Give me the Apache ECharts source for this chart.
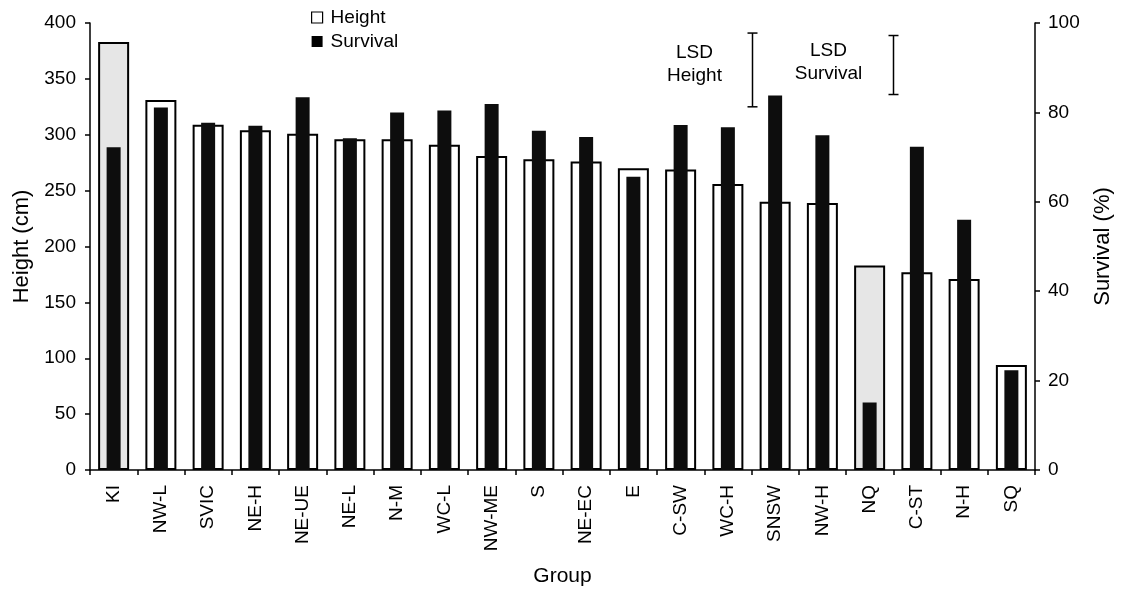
<!DOCTYPE html>
<html>
<head>
<meta charset="utf-8">
<script src="https://cdn.jsdelivr.net/npm/echarts@6/dist/echarts.min.js"></script>
<style>
  html, body { margin: 0; padding: 0; background: #fff; }
  #chart { width: 1126px; height: 589px; }
</style>
</head>
<body>
<div id="chart"></div>
<script>
// Groups along the x axis
const groups = ['KI', 'NW-L', 'SVIC', 'NE-H', 'NE-UE', 'NE-L', 'N-M', 'WC-L', 'NW-ME', 'S',
  'NE-EC', 'E', 'C-SW', 'WC-H', 'SNSW', 'NW-H', 'NQ', 'C-ST', 'N-H', 'SQ'];

// Mean height (cm), left axis
const heightCm = [383, 331, 309, 304, 301, 296, 296, 291, 281, 278,
  276, 270, 269, 256, 240, 239, 183, 177, 171, 94];

// Survival (%), right axis
const survivalPct = [72.2, 81.1, 77.7, 77.0, 83.4, 74.2, 80.0, 80.4, 81.9, 75.9,
  74.5, 65.6, 77.2, 76.7, 83.8, 74.9, 15.1, 72.3, 56.0, 22.3];

// Groups whose height bar carries a shaded fill
const shadedGroups = ['KI', 'NQ'];

// Least significant difference bars: drawn just right of the named group
const lsdHeight = { after: 'WC-H', top: 391, size: 66 };
const lsdSurvival = { after: 'NQ', top: 97.2, size: 13.2 };

// Axis tick settings
const heightTicks = { min: 0, max: 400, interval: 50 };
const survivalTicks = { min: 0, max: 100, interval: 20 };

const FONT = '"Liberation Sans", Arial, sans-serif';

const chart = echarts.init(document.getElementById('chart'), null, { renderer: 'canvas' });

function lsdRenderer(lines, textDx, textDy) {
  return function (params, api) {
    const idx = api.value(0);
    const top = api.coord([idx, api.value(1)]);
    const bot = api.coord([idx, api.value(1) - api.value(2)]);
    const half = api.size([1, 0])[0] / 2;
    const x = Math.round(top[0] + half) + 0.5;
    const cap = 5;
    const style = { stroke: '#000', lineWidth: 1.5, fill: null };
    return {
      type: 'group',
      children: [
        { type: 'line', shape: { x1: x, y1: top[1], x2: x, y2: bot[1] }, style },
        { type: 'line', shape: { x1: x - cap, y1: top[1], x2: x + cap, y2: top[1] }, style },
        { type: 'line', shape: { x1: x - cap, y1: bot[1], x2: x + cap, y2: bot[1] }, style },
        {
          type: 'text',
          x: x + textDx,
          y: (top[1] + bot[1]) / 2 + textDy,
          style: {
            text: lines.join('\n'),
            fill: '#000',
            font: '19px ' + FONT,
            lineHeight: 23,
            align: 'center',
            verticalAlign: 'middle'
          }
        }
      ]
    };
  };
}

const option = {
  animation: false,
  backgroundColor: '#fff',
  textStyle: { fontFamily: FONT, color: '#000' },
  legend: {
    orient: 'vertical',
    left: 311,
    top: 8,
    padding: 0,
    itemWidth: 11,
    itemHeight: 11,
    itemGap: 5,
    textStyle: { fontSize: 19, color: '#000', fontFamily: FONT, padding: [0, 0, 0, 3] },
    data: [
      { name: 'Height', icon: 'rect', itemStyle: { color: '#fff', borderColor: '#000', borderWidth: 1.2 } },
      { name: 'Survival', icon: 'rect', itemStyle: { color: '#000' } }
    ]
  },
  grid: { left: 90, right: 91, top: 23, bottom: 119, outerBoundsMode: 'none', containLabel: false },
  xAxis: [
    {
      type: 'category',
      data: groups,
      name: 'Group',
      nameLocation: 'middle',
      nameGap: 96,
      nameTextStyle: { fontSize: 21, color: '#000', fontFamily: FONT },
      axisLine: { lineStyle: { color: '#000', width: 1.5 } },
      axisTick: { show: true, inside: false, length: 5, alignWithLabel: false, lineStyle: { color: '#000', width: 1.5 } },
      axisLabel: { rotate: 90, margin: 15, fontSize: 19, color: '#000', fontFamily: FONT, interval: 0 }
    },
    {
      type: 'category',
      data: groups,
      show: false
    }
  ],
  yAxis: [
    {
      type: 'value',
      min: heightTicks.min,
      max: heightTicks.max,
      interval: heightTicks.interval,
      name: 'Height (cm)',
      nameLocation: 'middle',
      nameGap: 57,
      nameTextStyle: { fontSize: 22, color: '#000', fontFamily: FONT },
      splitLine: { show: false },
      axisLine: { show: true, lineStyle: { color: '#000', width: 1.5 } },
      axisTick: { show: true, length: 5, lineStyle: { color: '#000', width: 1.5 } },
      axisLabel: { fontSize: 19, color: '#000', fontFamily: FONT, margin: 14 }
    },
    {
      type: 'value',
      position: 'right',
      min: survivalTicks.min,
      max: survivalTicks.max,
      interval: survivalTicks.interval,
      name: 'Survival (%)',
      nameLocation: 'middle',
      nameRotate: 90,
      nameGap: 57,
      nameTextStyle: { fontSize: 22, color: '#000', fontFamily: FONT },
      splitLine: { show: false },
      axisLine: { show: true, lineStyle: { color: '#000', width: 1.5 } },
      axisTick: { show: true, length: 5, lineStyle: { color: '#000', width: 1.5 } },
      axisLabel: { fontSize: 19, color: '#000', fontFamily: FONT, margin: 13 }
    }
  ],
  series: [
    {
      name: 'Height',
      type: 'bar',
      xAxisIndex: 0,
      yAxisIndex: 0,
      barWidth: 31,
      itemStyle: { color: '#fff', borderColor: '#000', borderWidth: 2 },
      data: heightCm.map((v, i) => shadedGroups.includes(groups[i])
        ? { value: v, itemStyle: { color: '#e6e6e6' } }
        : v)
    },
    {
      name: 'Survival',
      type: 'bar',
      xAxisIndex: 1,
      yAxisIndex: 1,
      barWidth: 14,
      itemStyle: { color: '#0d0d0d' },
      data: survivalPct
    },
    {
      type: 'custom',
      xAxisIndex: 0,
      yAxisIndex: 0,
      silent: true,
      renderItem: lsdRenderer(['LSD', 'Height'], -58, -6),
      data: [[groups.indexOf(lsdHeight.after), lsdHeight.top, lsdHeight.size]],
      z: 5
    },
    {
      type: 'custom',
      xAxisIndex: 0,
      yAxisIndex: 1,
      silent: true,
      renderItem: lsdRenderer(['LSD', 'Survival'], -65, -3),
      data: [[groups.indexOf(lsdSurvival.after), lsdSurvival.top, lsdSurvival.size]],
      z: 5
    }
  ]
};

chart.setOption(option);
</script>
</body>
</html>
